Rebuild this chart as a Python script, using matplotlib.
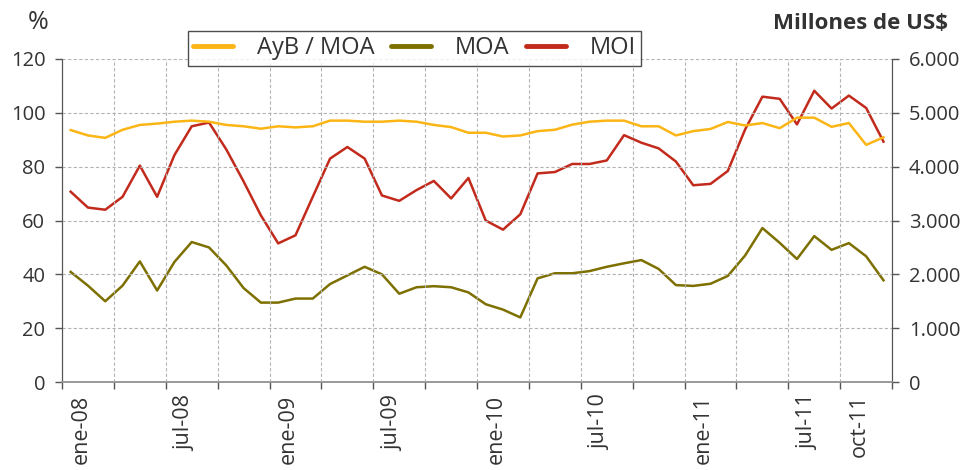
"""Monthly AyB/MOA share (%) against MOA and MOI exports (millions US$), 2008-2011."""

import matplotlib
matplotlib.use("Agg")
import matplotlib.pyplot as plt
from matplotlib.ticker import FixedLocator, FuncFormatter

INK = "#333333"
GRID = "#b3b3b3"
YELLOW = "#fbb515"
OLIVE = "#7d7000"
RED = "#c22a1c"

# ene-08 .. dic-11, one value per month
AYB_MOA = [93.6, 91.6, 90.7, 93.7, 95.5, 96.0, 96.7, 97.1, 96.7, 95.5, 95.0, 94.1,
           95.0, 94.6, 95.0, 97.1, 97.1, 96.7, 96.7, 97.1, 96.7, 95.5, 94.7, 92.6,
           92.6, 91.2, 91.6, 93.2, 93.7, 95.6, 96.7, 97.1, 97.1, 95.0, 95.0, 91.6,
           93.2, 94.0, 96.6, 95.3, 96.2, 94.3, 98.2, 98.2, 94.8, 96.2, 88.1, 90.9]
MOA = [2045, 1790, 1500, 1790, 2240, 1700, 2230, 2600, 2500, 2165, 1745, 1475,
       1475, 1550, 1550, 1820, 1980, 2140, 2000, 1640, 1760, 1780, 1760, 1665,
       1445, 1345, 1200, 1925, 2020, 2020, 2060, 2140, 2205, 2265, 2100, 1800,
       1785, 1825, 1970, 2350, 2860, 2585, 2285, 2710, 2455, 2580, 2335, 1890]
MOI = [3535, 3240, 3200, 3440, 4020, 3440, 4215, 4750, 4820, 4320, 3725, 3095,
       2575, 2725, 3440, 4150, 4365, 4150, 3465, 3365, 3565, 3735, 3410, 3790,
       3000, 2830, 3115, 3875, 3900, 4050, 4050, 4115, 4585, 4445, 4340, 4095,
       3655, 3680, 3920, 4690, 5300, 5260, 4785, 5410, 5080, 5320, 5090, 4465]

TICK_MONTHS = [0, 6, 12, 18, 24, 30, 36, 42, 45]
TICK_LABELS = ["ene-08", "jul-08", "ene-09", "jul-09", "ene-10",
               "jul-10", "ene-11", "jul-11", "oct-11"]

matplotlib.rcParams.update({
    "font.family": ["Open Sans", "DejaVu Sans"],
    "text.color": INK,
    "xtick.color": INK,
    "ytick.color": INK,
})

fig = plt.figure(figsize=(9.72, 4.70), dpi=100)
ax = fig.add_axes([0.0638, 0.1872, 0.854, 0.6873])
ax2 = ax.twinx()

months = list(range(len(AYB_MOA)))
l1, = ax.plot(months, AYB_MOA, color=YELLOW, lw=1.8, zorder=4)
l2, = ax2.plot(months, MOA, color=OLIVE, lw=1.8, zorder=3)
l3, = ax2.plot(months, MOI, color=RED, lw=1.8, zorder=3)

ax.set_xlim(-0.5, len(months) - 0.5)
ax.set_ylim(0, 120)
ax2.set_ylim(0, 6000)
ax.set_yticks(range(0, 121, 20))
ax2.set_yticks(range(0, 6001, 1000))
ax2.yaxis.set_major_formatter(FuncFormatter(lambda v, _: f"{v:,.0f}".replace(",", ".")))

# tick marks / vertical grid every quarter, labels nudged like the source
ax.xaxis.set_minor_locator(FixedLocator([m - 0.5 for m in range(0, len(months) + 1, 3)]))
ax.set_xticks([m + 0.6 for m in TICK_MONTHS])
ax.set_xticklabels(TICK_LABELS, rotation=90, fontsize=15.5)
ax.tick_params(axis="x", which="major", length=0, pad=9)
ax.tick_params(axis="x", which="minor", length=5, width=1, color="#555555", direction="out")
ax.tick_params(axis="y", length=5, width=1, color="#555555", labelsize=14.5, pad=7)
ax2.tick_params(axis="y", length=5, width=1, color="#555555", labelsize=14.5, pad=7)

ax.grid(True, which="minor", axis="x", color=GRID, ls=(0, (3, 2)), lw=0.8)
ax.grid(True, which="major", axis="y", color=GRID, ls=(0, (3, 2)), lw=0.8)
ax.set_axisbelow(True)
ax.set_zorder(ax2.get_zorder() + 1)
ax.patch.set_visible(False)

for a in (ax, ax2):
    a.spines["top"].set_visible(False)
    a.spines["left"].set_color("#555555")
    a.spines["right"].set_color("#555555")
    a.spines["bottom"].set_color("#999999")
    a.spines["bottom"].set_linewidth(1.2)

fig.text(0.039, 0.953, "%", fontsize=18, ha="center", va="center")
fig.text(0.975, 0.950, "Millones de US$", fontsize=16, fontweight="bold",
         ha="right", va="center")

leg = ax.legend([l1, l2, l3], ["AyB / MOA", "MOA", "MOI"], ncol=3,
                loc="center", bbox_to_anchor=(0.4247, 1.0325), fontsize=17,
                frameon=True, fancybox=False, edgecolor="#222222",
                handlelength=1.7, handletextpad=1.0, columnspacing=0.7,
                borderpad=0.22, borderaxespad=0)
leg.get_frame().set_linewidth(1.0)
for line in leg.get_lines():
    line.set_linewidth(3.5)
    line.set_solid_capstyle("round")

fig.savefig("out.png", dpi=100)
